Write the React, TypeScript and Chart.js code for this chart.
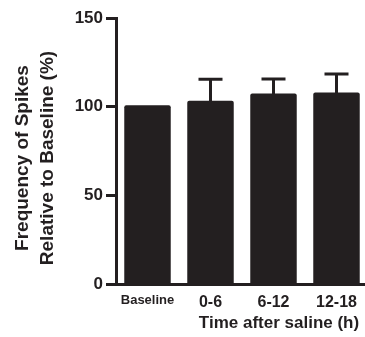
import React, { useEffect, useRef } from "react";
import { Chart, registerables } from "chart.js";

Chart.register(...registerables);

const categories = ["Baseline", "0-6", "6-12", "12-18"];
const meanValues = [100, 102.5, 106.6, 107.2];
const upperErrors = [0, 12.9, 9.0, 11.2];
const yTickValues = [0, 50, 100, 150];
const yTitleLines = ["Frequency of Spikes", "Relative to Baseline (%)"];
const xTitle = "Time after saline (h)";

const DARK = "#231f20";
const FAMILY = "'Liberation Sans', Arial, Helvetica, sans-serif";

const errorBarPlugin = {
  id: "errorBars",
  afterDatasetsDraw(chart: any) {
    const meta = chart.getDatasetMeta(0);
    const yScale = chart.scales.y;
    const ctx = chart.ctx;
    ctx.save();
    ctx.strokeStyle = DARK;
    ctx.lineWidth = 3;
    ctx.lineCap = "butt";
    meta.data.forEach((el: any, i: number) => {
      const err = upperErrors[i];
      if (!err) return;
      const x = el.x;
      const yBar = el.y;
      const yTop = yScale.getPixelForValue(meanValues[i] + err);
      ctx.beginPath();
      ctx.moveTo(x, yBar);
      ctx.lineTo(x, yTop);
      ctx.moveTo(x - 12, yTop);
      ctx.lineTo(x + 12, yTop);
      ctx.stroke();
    });
    ctx.restore();
  },
};

const titlesPlugin = {
  id: "axisTitles",
  afterDraw(chart: any) {
    const ctx = chart.ctx;
    const area = chart.chartArea;
    ctx.save();
    ctx.fillStyle = DARK;
    // x title
    ctx.font = `bold 17px ${FAMILY}`;
    ctx.textAlign = "center";
    ctx.textBaseline = "alphabetic";
    ctx.fillText(xTitle, area.left + 163, 328);
    // y title
    ctx.translate(0, 158);
    ctx.rotate(-Math.PI / 2);
    ctx.font = `bold 19px ${FAMILY}`;
    ctx.fillText(yTitleLines[0], 0, 28);
    ctx.fillText(yTitleLines[1], 0, 53);
    ctx.restore();
  },
};

export default function App() {
  const ref = useRef<HTMLCanvasElement | null>(null);

  useEffect(() => {
    if (!ref.current) return;
    const chart = new Chart(ref.current, {
      type: "bar",
      data: {
        labels: categories,
        datasets: [
          {
            data: meanValues,
            backgroundColor: DARK,
            borderWidth: 0,
            borderRadius: 2,
            inflateAmount: 1.5,
            barPercentage: 0.69,
            categoryPercentage: 1,
          } as any,
        ],
      },
      options: {
        responsive: false,
        animation: false,
        layout: { padding: { top: 18, right: 4, left: 0, bottom: 0 } },
        plugins: { legend: { display: false }, tooltip: { enabled: false } },
        scales: {
          x: {
            grid: { display: false },
            border: { display: true, color: DARK, width: 3 },
            ticks: {
              color: DARK,
              padding: 1,
              maxRotation: 0,
              font: (c: any) => ({
                family: FAMILY,
                weight: "bold",
                size: c.index === 0 ? 13 : 16,
              }),
            },
            afterFit: (s: any) => {
              s.height = 53;
            },
          },
          y: {
            min: 0,
            max: 150,
            grid: {
              drawOnChartArea: false,
              drawTicks: true,
              tickLength: 10,
              lineWidth: 3,
              color: DARK,
            },
            border: { display: true, color: DARK, width: 3 },
            ticks: {
              color: DARK,
              padding: 3,
              font: { family: FAMILY, weight: "bold", size: 17 },
            },
            afterBuildTicks: (s: any) => {
              s.ticks = yTickValues.map((v) => ({ value: v }));
            },
            afterFit: (s: any) => {
              s.width = 116;
            },
          },
        },
      },
      plugins: [errorBarPlugin, titlesPlugin],
    });
    return () => chart.destroy();
  }, []);

  return (
    <div
      style={{
        position: "fixed",
        left: 0,
        top: 0,
        width: 365,
        height: 337,
        overflow: "hidden",
        background: "#fff",
      }}
    >
      <canvas ref={ref} width={372} height={337} style={{ width: 372, height: 337, display: "block" }} />
    </div>
  );
}
